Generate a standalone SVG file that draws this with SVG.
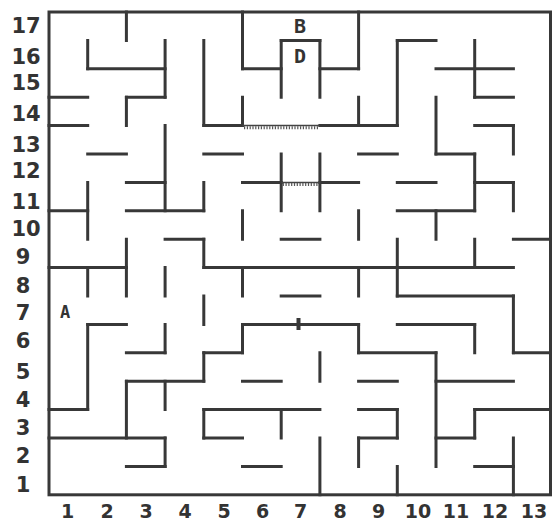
<svg xmlns="http://www.w3.org/2000/svg" width="552" height="523" viewBox="0 0 552 523">
<style>
.w{fill:none;stroke:#383838;stroke-width:3;stroke-linecap:square}
.b{fill:none;stroke:#383838;stroke-width:3}
.c{fill:none;stroke:#444;stroke-width:1.5}
.t{fill:none;stroke:#555;stroke-width:3;stroke-dasharray:1.2 1.6}
.l{font-family:"DejaVu Sans",sans-serif;font-weight:bold;font-size:21px;fill:#333;text-anchor:middle}
.bl{font-family:"DejaVu Sans",sans-serif;font-weight:bold;font-size:19px;fill:#333;text-anchor:middle}
.m{font-family:"DejaVu Sans Mono",monospace;font-weight:bold;font-size:20px;fill:#333;text-anchor:middle}
</style>
<rect width="552" height="523" fill="#fff"/>
<g id="maze">
<rect class="b" x="49" y="12" width="501.5" height="482.8"/>
<path class="w" d="M87.7 68.8H165.1M126.4 97.2H165.1M49 97.2H87.7M49 125.6H87.7M87.7 154H126.4M126.4 182.4H165.1M126.4 210.8H203.8M49 210.8H87.7M49 267.6H126.4M165.1 239.2H203.8M203.8 267.6H513.4M87.7 324.4H126.4M126.4 352.8H165.1M126.4 381.2H203.8M203.8 352.8H242.5M49 409.6H87.7M49 438H165.1M126.4 466.4H165.1M242.5 68.8H281.2M281.2 40.4H319.9M319.9 68.8H358.6M203.8 125.6H242.5M319.9 125.6H397.3M203.8 154H242.5M358.6 154H397.3M242.5 182.4H281.2M319.9 182.4H358.6M281.2 239.2H319.9M281.2 296H319.9M242.5 324.4H358.6M242.5 381.2H281.2M203.8 409.6H319.9M203.8 438H242.5M242.5 466.4H281.2M397.3 40.4H436M436 68.8H513.4M474.7 97.2H513.4M474.7 125.6H513.4M436 154H474.7M397.3 182.4H436M474.7 182.4H513.4M397.3 210.8H474.7M513.4 239.2H550.5M397.3 296H513.4M397.3 324.4H474.7M358.6 352.8H436M513.4 352.8H550.5M358.6 381.2H397.3M436 381.2H513.4M358.6 409.6H397.3M474.7 409.6H550.5M358.6 438H397.3M436 438H474.7M474.7 466.4H513.4"/>
<path class="w" d="M126.4 12V40.4M87.7 40.4V68.8M165.1 40.4V97.2M126.4 97.2V125.6M165.1 125.6V210.8M203.8 182.4V210.8M87.7 182.4V239.2M126.4 239.2V296M87.7 267.6V296M165.1 267.6V296M203.8 239.2V267.6M87.7 324.4V409.6M165.1 324.4V352.8M126.4 381.2V438M165.1 381.2V409.6M165.1 438V466.4M203.8 352.8V381.2M242.5 12V68.8M281.2 40.4V97.2M319.9 40.4V97.2M358.6 12V68.8M203.8 40.4V125.6M242.5 97.2V125.6M358.6 97.2V125.6M281.2 154V210.8M319.9 154V210.8M242.5 210.8V239.2M358.6 210.8V239.2M242.5 267.6V296M358.6 267.6V296M203.8 296V324.4M242.5 324.4V352.8M358.6 324.4V352.8M319.9 352.8V381.2M203.8 409.6V438M281.2 409.6V438M358.6 438V466.4M319.9 438V494.8M397.3 40.4V125.6M474.7 40.4V97.2M436 97.2V154M513.4 125.6V154M474.7 154V210.8M513.4 182.4V210.8M436 210.8V239.2M474.7 239.2V267.6M397.3 239.2V296M513.4 296V352.8M474.7 324.4V352.8M436 352.8V466.4M397.3 409.6V438M474.7 409.6V438M513.4 438V494.8M397.3 466.4V494.8"/>
<path class="c" d="M242.5 125.6H319.9M281.2 182.4H319.9"/>
<path class="t" d="M244 127.8H318.5M282.7 184.6H318.5"/>
<rect x="296.5" y="318" width="4" height="12" fill="#383838"/>
</g>
<g id="marks">
<text class="m" x="300" y="33">B</text>
<text class="m" x="300" y="63">D</text>
<text class="m" x="65" y="318" style="font-size:17px">A</text>
</g>
<g id="row-labels">
<text class="l" x="26" y="32.5">17</text>
<text class="l" x="26" y="64">16</text>
<text class="l" x="26" y="90">15</text>
<text class="l" x="26" y="120.5">14</text>
<text class="l" x="26" y="152">13</text>
<text class="l" x="26" y="177.5">12</text>
<text class="l" x="26" y="209">11</text>
<text class="l" x="26" y="235.5">10</text>
<text class="l" x="23" y="263.5">9</text>
<text class="l" x="23" y="292.5">8</text>
<text class="l" x="23" y="320">7</text>
<text class="l" x="23" y="348">6</text>
<text class="l" x="23" y="379">5</text>
<text class="l" x="23" y="406.5">4</text>
<text class="l" x="23" y="434.5">3</text>
<text class="l" x="23" y="462.5">2</text>
<text class="l" x="23" y="492">1</text>
</g>
<g id="col-labels">
<text class="bl" x="67.5" y="518">1</text>
<text class="bl" x="107" y="518">2</text>
<text class="bl" x="146" y="518">3</text>
<text class="bl" x="185" y="518">4</text>
<text class="bl" x="224" y="518">5</text>
<text class="bl" x="262.5" y="518">6</text>
<text class="bl" x="300.5" y="518">7</text>
<text class="bl" x="340" y="518">8</text>
<text class="bl" x="378.5" y="518">9</text>
<text class="bl" x="418" y="518">10</text>
<text class="bl" x="456" y="518">11</text>
<text class="bl" x="495" y="518">12</text>
<text class="bl" x="534" y="518">13</text>
</g>
</svg>
